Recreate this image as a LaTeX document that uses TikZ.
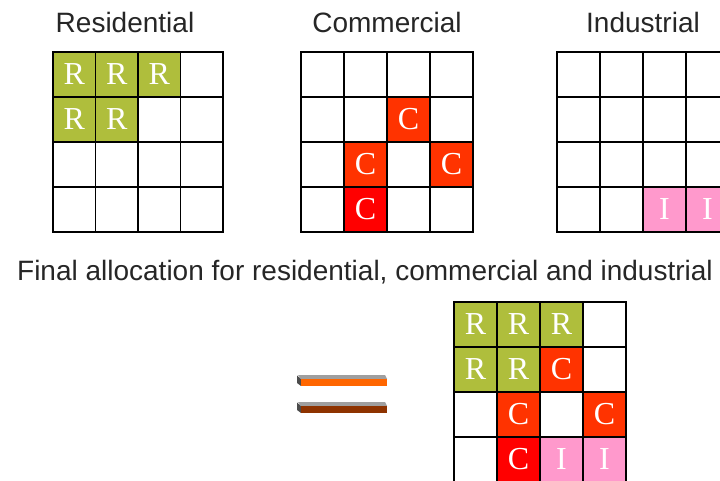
\documentclass[tikz,border=0pt]{standalone}
\usepackage{fontspec}
\setmainfont{Liberation Sans}
\newfontfamily\cellfont{Liberation Serif}
\usepackage{tikz}
\usetikzlibrary{positioning}

\definecolor{resgreen}{HTML}{AFBE3C}
\definecolor{comred}{HTML}{FF3300}
\definecolor{comdark}{HTML}{FF0000}
\definecolor{indpink}{HTML}{FF99CC}
\definecolor{barorange}{HTML}{FF6600}
\definecolor{barbrown}{HTML}{8E3300}

\begin{document}
\begin{tikzpicture}[x=1pt,y=1pt,
  title/.style={inner sep=0pt,font=\fontsize{28}{32}\selectfont,text=black!85},
  cell/.style={draw=black,line width=1.3pt,minimum width=42.5pt,minimum height=45pt,
    inner sep=0pt,text=white,font=\cellfont\fontsize{32}{34}\selectfont},
  res/.style={cell,fill=resgreen},
  com/.style={cell,fill=comred},
  comb/.style={cell,fill=comdark},
  ind/.style={cell,fill=indpink}]
\useasboundingbox (0,0) rectangle (720,-481);
\clip (0,0) rectangle (720,-481);
% titles
\node [title] (tres) at (125,-22) {Residential};
\node [title] (tcom) at (387,-22) {Commercial};
\node [title] (tind) at (643,-22) {Industrial};
\node [title] (tfin) at (365,-272) {Final allocation for residential, commercial and industrial};
% residential grid
\draw [black,line width=1.3pt] (53,-52) rectangle (223,-232);
\draw [black,line width=1.3pt] (95.5,-52) -- (95.5,-232);
\draw [black,line width=1.3pt] (138,-52) -- (138,-232);
\draw [black,line width=1.3pt] (180.5,-52) -- (180.5,-232);
\draw [black,line width=1.3pt] (53,-97) -- (223,-97);
\draw [black,line width=1.3pt] (53,-142) -- (223,-142);
\draw [black,line width=1.3pt] (53,-187) -- (223,-187);
\node [res] (r11) at (74.25,-74.5) {R};
\node [res] (r12) at (116.75,-74.5) {R};
\node [res] (r13) at (159.25,-74.5) {R};
\node [res] (r21) at (74.25,-119.5) {R};
\node [res] (r22) at (116.75,-119.5) {R};
% commercial grid
\draw [black,line width=1.3pt] (301,-52) rectangle (473,-232);
\draw [black,line width=1.3pt] (344,-52) -- (344,-232);
\draw [black,line width=1.3pt] (387,-52) -- (387,-232);
\draw [black,line width=1.3pt] (430,-52) -- (430,-232);
\draw [black,line width=1.3pt] (301,-97) -- (473,-97);
\draw [black,line width=1.3pt] (301,-142) -- (473,-142);
\draw [black,line width=1.3pt] (301,-187) -- (473,-187);
\node [com,minimum width=43pt] (c23) at (408.5,-119.5) {C};
\node [com,minimum width=43pt] (c32) at (365.5,-164.5) {C};
\node [com,minimum width=43pt] (c34) at (451.5,-164.5) {C};
\node [comb,minimum width=43pt] (c42) at (365.5,-209.5) {C};
% industrial grid
\draw [black,line width=1.3pt] (557,-52) rectangle (729,-232);
\draw [black,line width=1.3pt] (600,-52) -- (600,-232);
\draw [black,line width=1.3pt] (643,-52) -- (643,-232);
\draw [black,line width=1.3pt] (686,-52) -- (686,-232);
\draw [black,line width=1.3pt] (557,-97) -- (729,-97);
\draw [black,line width=1.3pt] (557,-142) -- (729,-142);
\draw [black,line width=1.3pt] (557,-187) -- (729,-187);
\node [ind,minimum width=43pt] (i43) at (664.5,-209.5) {I};
\node [ind,minimum width=43pt] (i44) at (707.5,-209.5) {I};
% equals sign
\fill [gray!75] (298,-375) -- (385,-375) -- (387,-379) -- (301,-379) -- cycle;
\fill [black!70] (297,-375.5) -- (301,-379) -- (301,-386) -- (297,-383) -- cycle;
\fill [barorange] (301,-379) rectangle (387,-386);
\fill [gray!75] (298,-402) -- (385,-402) -- (387,-406) -- (301,-406) -- cycle;
\fill [black!70] (297,-402.5) -- (301,-406) -- (301,-413) -- (297,-410) -- cycle;
\fill [barbrown] (301,-406) rectangle (387,-413);
% final grid
\draw [black,line width=1.3pt] (454,-302) rectangle (626,-482);
\draw [black,line width=1.3pt] (497,-302) -- (497,-482);
\draw [black,line width=1.3pt] (540,-302) -- (540,-482);
\draw [black,line width=1.3pt] (583,-302) -- (583,-482);
\draw [black,line width=1.3pt] (454,-347) -- (626,-347);
\draw [black,line width=1.3pt] (454,-392) -- (626,-392);
\draw [black,line width=1.3pt] (454,-437) -- (626,-437);
\node [res,minimum width=43pt] (f11) at (475.5,-324.5) {R};
\node [res,minimum width=43pt] (f12) at (518.5,-324.5) {R};
\node [res,minimum width=43pt] (f13) at (561.5,-324.5) {R};
\node [res,minimum width=43pt] (f21) at (475.5,-369.5) {R};
\node [res,minimum width=43pt] (f22) at (518.5,-369.5) {R};
\node [com,minimum width=43pt] (f23) at (561.5,-369.5) {C};
\node [com,minimum width=43pt] (f32) at (518.5,-414.5) {C};
\node [com,minimum width=43pt] (f34) at (604.5,-414.5) {C};
\node [comb,minimum width=43pt] (f42) at (518.5,-459.5) {C};
\node [ind,minimum width=43pt] (f43) at (561.5,-459.5) {I};
\node [ind,minimum width=43pt] (f44) at (604.5,-459.5) {I};
\end{tikzpicture}
\end{document}
